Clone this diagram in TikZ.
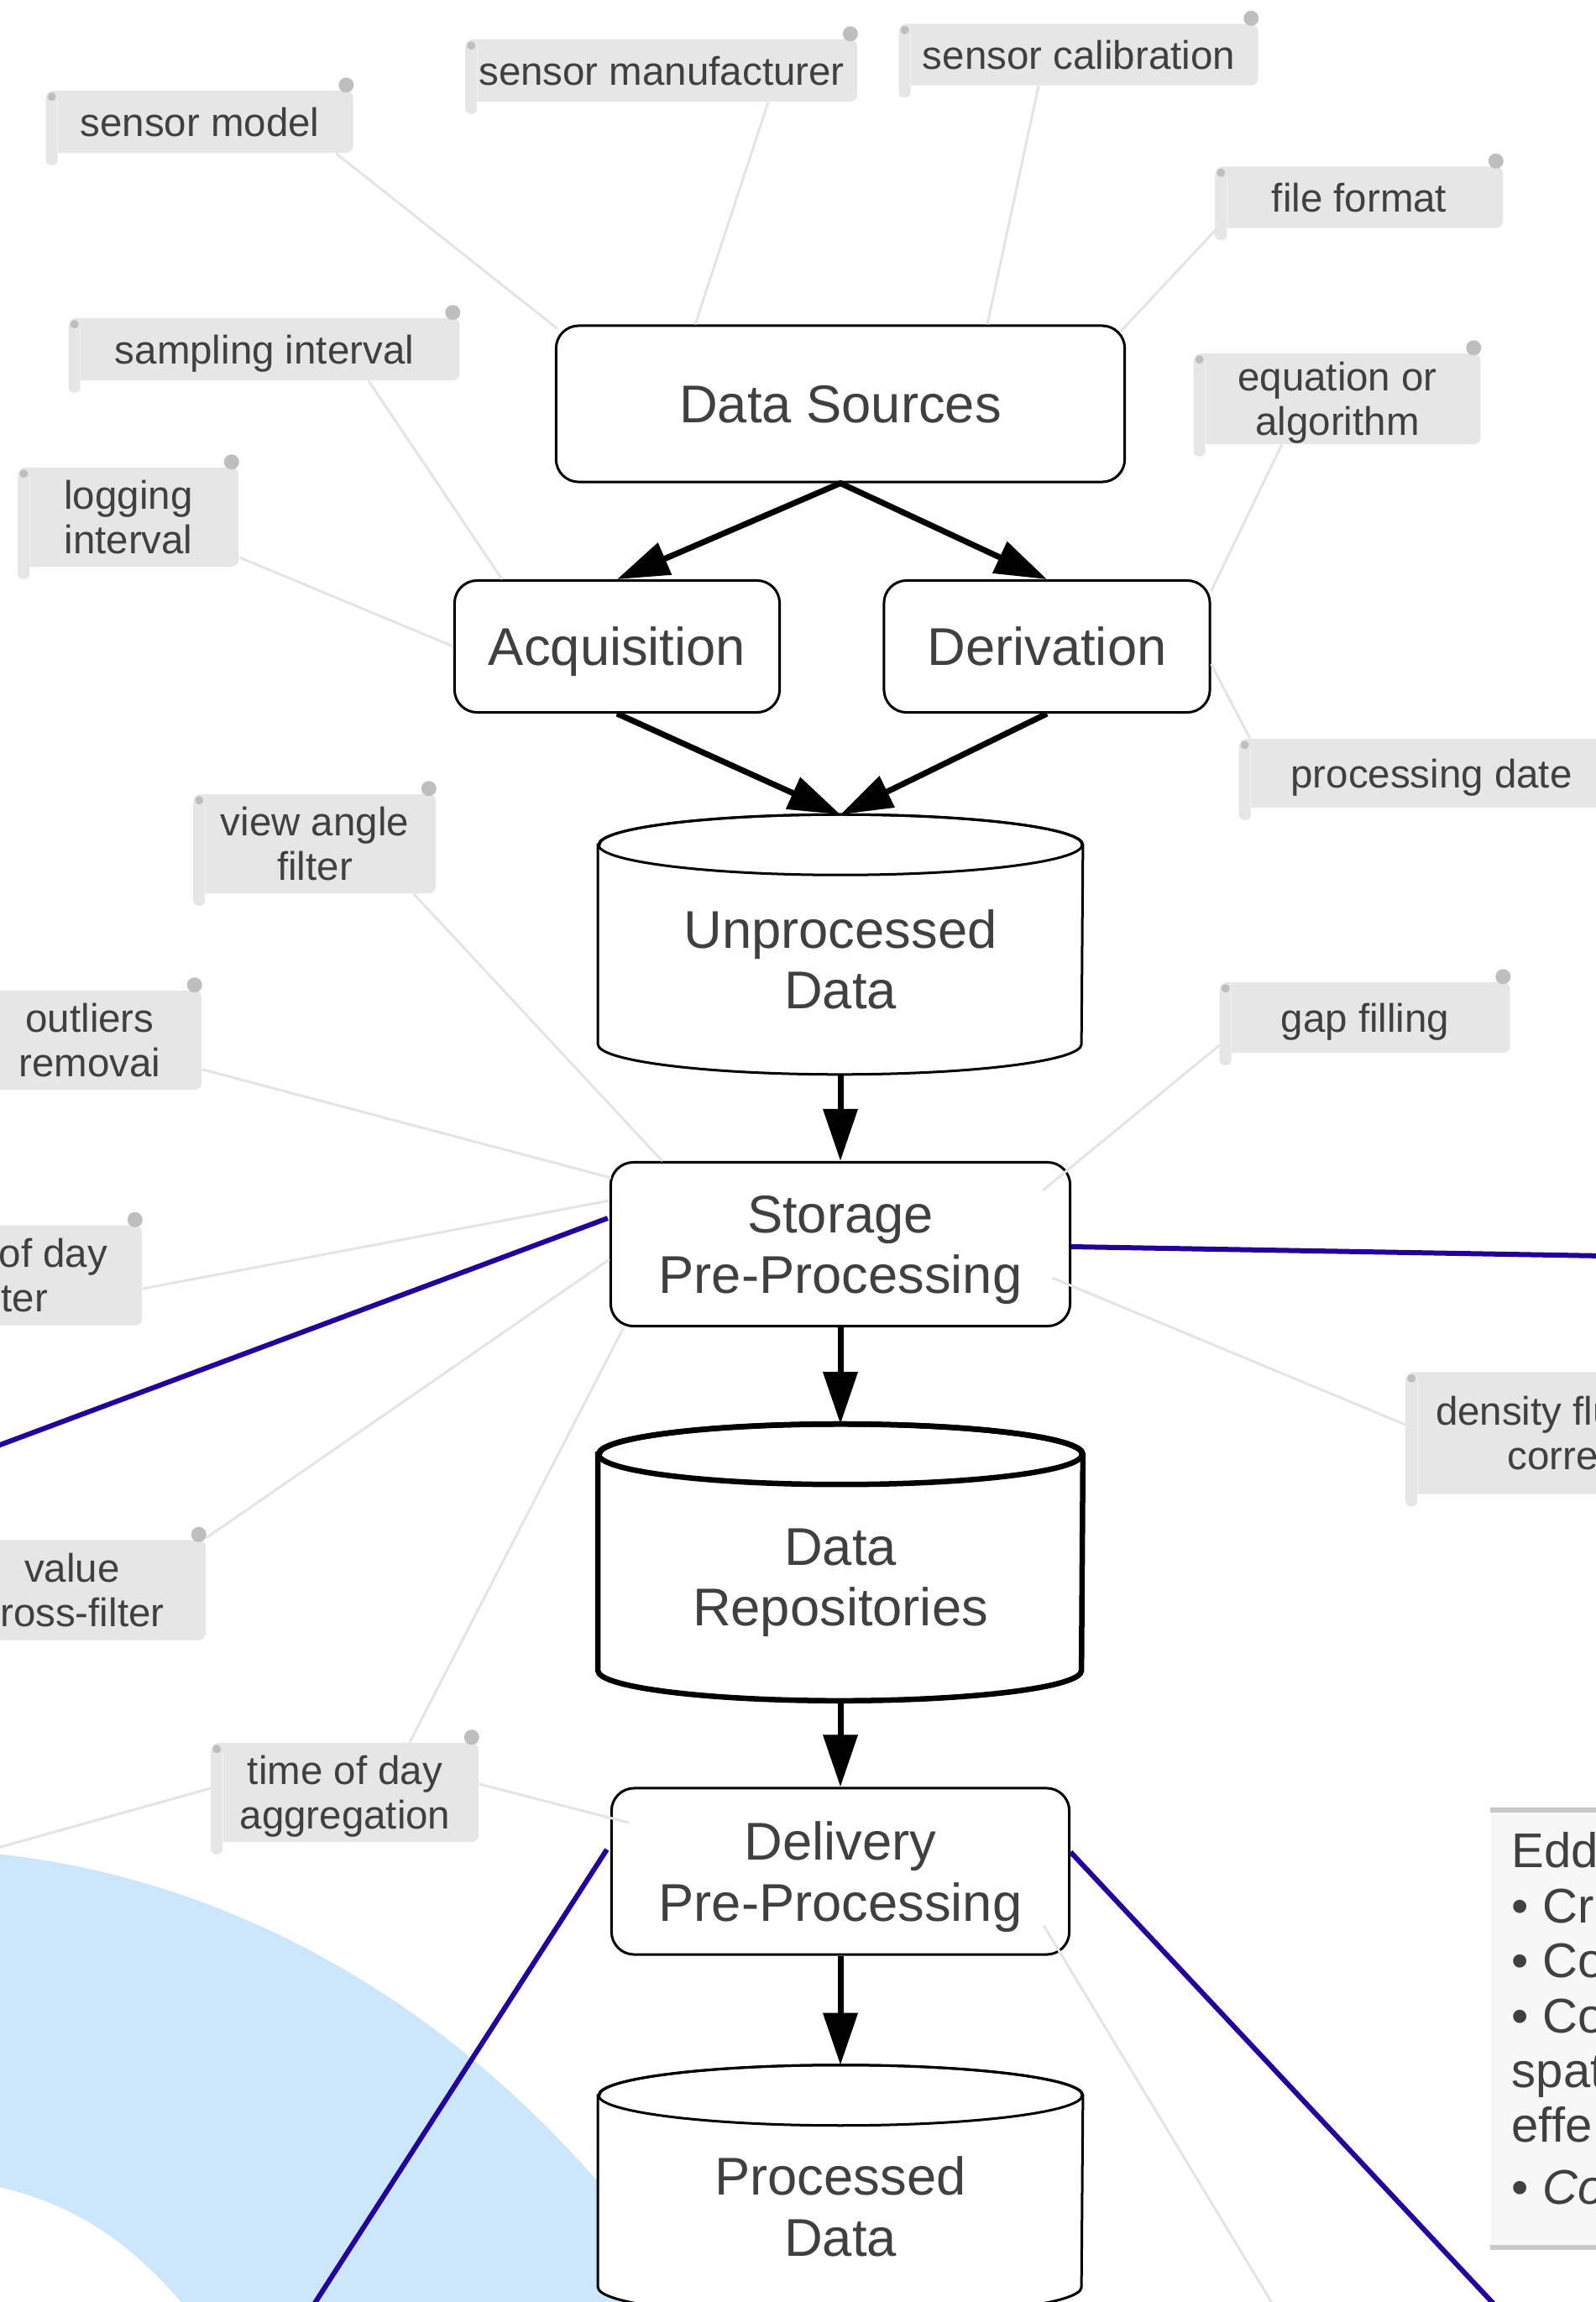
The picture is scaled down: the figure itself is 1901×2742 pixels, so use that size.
\documentclass[tikz,border=0pt]{standalone}
\usepackage{fontspec}
\setmainfont{Liberation Sans}
\usetikzlibrary{arrows.meta,calc}

\definecolor{ink}{RGB}{64,64,64}
\definecolor{notegray}{RGB}{230,230,230}
\definecolor{curlgray}{RGB}{190,190,190}
\definecolor{rollline}{RGB}{242,242,242}
\definecolor{linkgray}{RGB}{228,228,228}
\definecolor{linkblue}{RGB}{34,0,153}
\definecolor{bandblue}{RGB}{204,231,252}
\definecolor{memofill}{RGB}{247,247,247}
\definecolor{memoedge}{RGB}{200,200,200}

% cylinder outline round a body node (top ellipse sits on its north edge)
\newcommand{\drawdb}[2][]{%
  \draw[#1, fill=white] (#2.north west) -- ($(#2.south west)+(0,-36)$)
    arc[start angle=180, end angle=0, x radius=288, y radius=36]
    -- (#2.north east)
    arc[start angle=0, end angle=-180, x radius=288, y radius=36] -- cycle;
  \draw[#1] (#2.north) ellipse[x radius=288, y radius=36];
}

\begin{document}
\begin{tikzpicture}[
    x=0.01cm, y=-0.01cm,
    >={Triangle[length=6.2mm, width=4mm]},
    stage/.style={draw, line width=0.03cm, fill=white, rounded corners=0.27cm,
                  align=center, text=ink, inner sep=0pt, text depth=0pt,
                  font=\fontsize{18}{20.5}\selectfont},
    db/.style={align=center, text=ink, inner sep=0pt, minimum width=5.76cm,
               text depth=0pt, font=\fontsize{18}{20.5}\selectfont},
    note/.style={fill=notegray, rounded corners=0.08cm, align=center,
                 text=ink, inner sep=0pt, text depth=0pt,
                 font=\fontsize{13.5}{15}\selectfont},
    flowarr/.style={->, line width=0.07cm},
    link/.style={linkgray, line width=0.03cm},
    tie/.style={linkblue, line width=0.06cm},
    memo/.style={anchor=north west, fill=memofill, inner sep=0pt,
                 minimum width=2cm, minimum height=5.19cm},
]
\useasboundingbox (0,0) rectangle (1901,2742);
\clip (0,0) rectangle (1901,2742);

%% light blue band, lower left
\fill[bandblue] (-40,2205) .. controls (250,2225) and (600,2380) .. (860,2800)
    -- (260,2800) .. controls (170,2670) and (80,2615) .. (-40,2598) -- cycle;

%% free ends of links that leave the sheet
\coordinate (offw) at (-300,2284);
\coordinate (offs) at (1610,2900);
\coordinate (bw1)  at (-300,1833);
\coordinate (be1)  at (2200,1501);
\coordinate (bs1)  at (274,2900);
\coordinate (bs2)  at (1925,2900);

%% main chain
\node[stage, minimum width=6.77cm, minimum height=1.86cm] (src)   at (1001,481)  {Data Sources};
\node[stage, minimum width=3.87cm, minimum height=1.57cm] (acq)   at (735,770)   {Acquisition};
\node[stage, minimum width=3.88cm, minimum height=1.57cm] (der)   at (1247,770)  {Derivation};
\node[db, minimum height=2.72cm]                          (raw)   at (1001,1143) {};
\node[stage, minimum width=5.47cm, minimum height=1.95cm] (stor)  at (1001,1482) {Storage\\Pre-Processing};
\node[db, minimum height=2.92cm]                          (repo)  at (1001,1879) {};
\node[stage, minimum width=5.45cm, minimum height=1.98cm] (deliv) at (1001,2229) {Delivery\\Pre-Processing};
\node[db, minimum height=2.63cm]                          (prc)   at (1001,2628) {};

%% blue links to the neighbouring branches
\draw[tie] ($(stor.west)+(-2,-31)$) -- (bw1);
\draw[tie] ($(stor.east)+(0,3)$) -- (be1);
\draw[tie] ($(deliv.west)+(-4,-26)$) -- (bs1);
\draw[tie] ($(deliv.east)+(0,-23)$) -- (bs2);

%% cylinders (drawn over the band)
\drawdb[line width=0.03cm]{raw}
\drawdb[line width=0.065cm]{repo}
\drawdb[line width=0.03cm]{prc}
\node[db, minimum height=2.72cm] (rawtxt)  at (raw)  {Unprocessed\\Data};
\node[db, minimum height=2.92cm] (repotxt) at (repo) {Data\\Repositories};
\node[db, minimum height=2.63cm] (prctxt)  at (prc)  {Processed\\Data};

\coordinate (rawtop)  at ($(raw.north)+(0,-36)$);
\coordinate (repotop) at ($(repo.north)+(0,-36)$);
\coordinate (prctop)  at ($(prc.north)+(0,-36)$);

%% flow arrows
\draw[flowarr, <->] (acq.north) -- (src.south) -- (der.north);
\draw[flowarr] (acq.south) -- (rawtop);
\draw[flowarr] (der.south) -- (rawtop);
\draw[flowarr] (raw.south) -- (stor.north);
\draw[flowarr] (stor.south) -- (repotop);
\draw[flowarr] (repo.south) -- (deliv.north);
\draw[flowarr] (deliv.south) -- (prctop);

%% attribute notes
\node[note, minimum width=3.65cm, minimum height=0.74cm] (smodel)   at (238,145)   {sensor model};
\node[note, minimum width=4.66cm, minimum height=0.74cm] (smanuf)   at (788,84)    {sensor manufacturer};
\node[note, minimum width=4.27cm, minimum height=0.73cm] (scal)     at (1285,65)   {sensor calibration};
\node[note, minimum width=3.42cm, minimum height=0.73cm] (ffmt)     at (1619,235)  {file format};
\node[note, minimum width=3.41cm, minimum height=1.08cm] (eqn)      at (1593,475)  {equation or\\algorithm};
\node[note, minimum width=4.57cm, minimum height=0.82cm] (pdate)    at (1705,921)  {processing date};
\node[note, minimum width=4.65cm, minimum height=0.74cm] (sampl)    at (315,416)   {sampling interval};
\node[note, minimum width=2.62cm, minimum height=1.18cm] (logint)   at (153,616)   {logging\\interval};
\node[note, minimum width=2.88cm, minimum height=1.18cm] (viewang)  at (375,1005)  {view angle\\filter};
\node[note, minimum width=2.66cm, minimum height=1.18cm] (outl)     at (107,1239)  {outliers\\removai};
\node[note, minimum width=3.14cm, minimum height=1.19cm] (todfilt)  at (12,1519)   {time of day\\filter};
\node[note, minimum width=3.18cm, minimum height=1.19cm] (valcross) at (86,1894)   {value\\cross-filter};
\node[note, minimum width=3.18cm, minimum height=1.18cm] (todagg)   at (411,2135)  {time of day\\aggregation};
\node[note, minimum width=3.45cm, minimum height=0.84cm] (gapfill)  at (1626,1212) {gap filling};
\node[note, minimum width=4.50cm, minimum height=1.45cm] (density)  at (1900,1707) {density fluctuation\\correction};

%% scroll ends of the notes
\foreach \n in {smodel,smanuf,scal,ffmt,eqn,pdate,sampl,logint,viewang,
                outl,todfilt,valcross,todagg,gapfill,density} {
  \fill[notegray, rounded corners=0.06cm] ($(\n.north west)+(0,4)$) rectangle ($(\n.south west)+(14,14)$);
  \draw[rollline, line width=0.012cm] ($(\n.north west)+(14,12)$) -- ($(\n.south west)+(14,0)$);
  \fill[curlgray] ($(\n.north west)+(7,8)$) circle[radius=5];
  \fill[curlgray] ($(\n.north east)+(-9,-6)$) circle[radius=9];
}

%% grey links from notes
\draw[link] ($(smodel.south east)+(-21,0)$) -- ($(src.north west)+(3,5)$);
\draw[link] ($(smanuf.south)+(127,0)$) -- ($(src.north)+(-173,0)$);
\draw[link] ($(scal.south)+(-48,0)$) -- ($(src.north)+(175,0)$);
\draw[link] ($(ffmt.south west)+(6,-4)$) -- ($(src.north east)+(-6,8)$);
\draw[link] ($(eqn.south west)+(105,0)$) -- ($(der.north east)+(0,14)$);
\draw[link] ($(der.east)+(0,21)$) -- ($(pdate.north west)+(13,0)$);
\draw[link] ($(sampl.south)+(124,0)$) -- ($(acq.north west)+(58,0)$);
\draw[link] ($(logint.south east)+(0,-12)$) -- (acq.west);
\draw[link] ($(viewang.south east)+(-27,0)$) -- ($(stor.north west)+(63,0)$);
\draw[link] ($(outl.south east)+(0,-25)$) -- ($(stor.north west)+(2,20)$);
\draw[link] ($(todfilt.east)+(0,16)$) -- ($(stor.west)+(0,-52)$);
\draw[link] ($(valcross.north east)+(0,-2)$) -- ($(stor.west)+(0,18)$);
\draw[link] ($(stor.south west)+(17,0)$) -- ($(todagg.north)+(77,0)$);
\draw[link] ($(todagg.east)+(0,-10)$) -- ($(deliv.west)+(22,-58)$);
\draw[link] ($(todagg.west)+(0,-5)$) -- (offw);
\draw[link] ($(gapfill.south west)+(0,-10)$) -- ($(stor.north east)+(-34,35)$);
\draw[link] ($(density.west)+(0,-10)$) -- ($(stor.east)+(-23,40)$);
\draw[link] ($(deliv.south east)+(-32,-36)$) -- (offs);

%% side memo
\node[memo] (memo) at (1775,2156) {};
\draw[memoedge, line width=0.06cm] (memo.north west) -- (memo.north east);
\draw[memoedge, line width=0.06cm] (memo.south west) -- (memo.south east);
\node[anchor=north west, inner sep=0pt, align=left, text=ink,
      font=\fontsize{16.5}{18.6}\selectfont] (memotxt)
  at ($(memo.north west)+(25,26)$)
  {Edd\\• Cr\\• Co\\• Co\\spat\\effe\\[0.08cm]• \textit{Co}};

\end{tikzpicture}
\end{document}
